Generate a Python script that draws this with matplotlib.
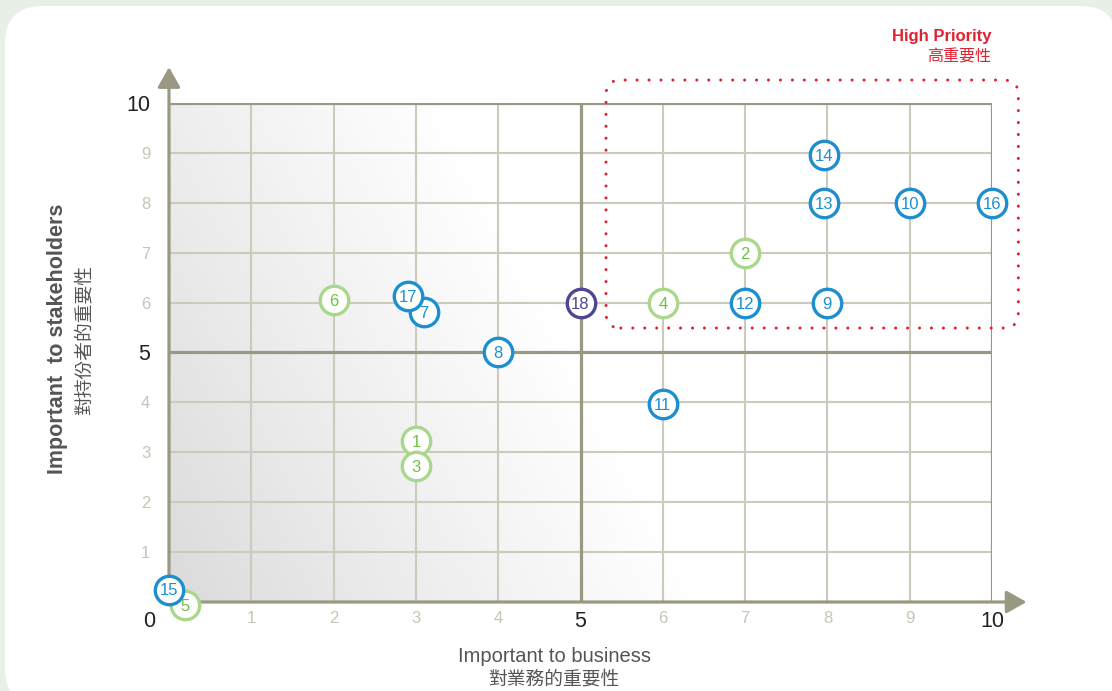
import matplotlib
matplotlib.use("Agg")
import matplotlib.pyplot as plt
import numpy as np
from matplotlib.patches import FancyBboxPatch
from matplotlib.transforms import offset_copy

plt.rcParams['font.family'] = ['Liberation Sans', 'Noto Sans CJK TC', 'DejaVu Sans']

# ---- data ----
ids = ['5', '15', '6', '7', '17', '1', '3', '8', '18', '4', '11', '12', '2', '9', '14', '13', '10', '16']
business = [0.19, 0.0, 2.0, 3.1, 2.9, 3.0, 3.0, 4.0, 5.0, 6.0, 6.0, 7.0, 7.0, 8.0, 7.96, 7.96, 9.0, 10.0]
stakeholders = [-0.06, 0.25, 6.05, 5.82, 6.13, 3.23, 2.73, 5.0, 6.0, 6.0, 3.97, 6.0, 7.0, 6.0, 8.96, 8.0, 8.0, 8.0]
group = ['g', 'b', 'g', 'b', 'b', 'g', 'g', 'b', 'p', 'g', 'b', 'b', 'g', 'b', 'b', 'b', 'b', 'b']

x_ticks = list(range(1, 11))
y_ticks = list(range(1, 11))
major_ticks = [5, 10]

ring_col = {'b': '#1d8fd0', 'g': '#a9d88c', 'p': '#4c4794'}
text_col = {'b': '#1d8fd0', 'g': '#6fc043', 'p': '#4c4794'}

fig = plt.figure(figsize=(11.12, 6.91), dpi=100)
fig.patch.set_facecolor('#e8efe6')

# white rounded panel
bg = fig.add_axes([0, 0, 1, 1], zorder=-1)
bg.set_xlim(0, 1112)
bg.set_ylim(0, 691)
bg.axis('off')
bg.add_patch(FancyBboxPatch((5, -15), 1113, 700, boxstyle='round,pad=0,rounding_size=38',
                            facecolor='white', edgecolor='none'))

ax = fig.add_axes([169 / 1112, 89 / 691, 823 / 1112, 499 / 691])
ax.set_facecolor('none')
ax.set_xlim(0, 10)
ax.set_ylim(0, 10)
for s in ax.spines.values():
    s.set_visible(False)

# shaded background, darker to the bottom-left
u = np.linspace(0, 1, 300)
v = np.linspace(0, 1, 300)
U, V = np.meshgrid(u, v)
t = np.clip(U * 1.55 + V * 0.5, 0, 1) ** 0.9
d = 0.855 + 0.145 * t
img = np.dstack([d, d, d * 0.985 + 0.015])
ax.imshow(img, extent=(0, 10, 0, 10), origin='lower', aspect='auto', zorder=0)

grid_c = '#cbcabb'
frame_c = '#9a9883'
for k in range(1, 10):
    if k == 5:
        continue
    ax.axvline(k, color=grid_c, lw=1.5, zorder=1)
    ax.axhline(k, color=grid_c, lw=1.5, zorder=1)
for k in [5, 10]:
    ax.axvline(k, color=frame_c, lw=2.3, zorder=2)
    ax.axhline(k, color=frame_c, lw=2.3, zorder=2)

# axes with arrows
arrow = '-|>,head_length=0.85,head_width=0.48'
ax.annotate('', xy=(10.42, 0), xytext=(0, 0), annotation_clip=False,
            arrowprops=dict(arrowstyle=arrow, mutation_scale=14.4, lw=2.3,
                            color=frame_c, shrinkA=0, shrinkB=0), zorder=3)
ax.annotate('', xy=(0, 10.72), xytext=(0, 0), annotation_clip=False,
            arrowprops=dict(arrowstyle=arrow, mutation_scale=14.4, lw=2.3,
                            color=frame_c, shrinkA=0, shrinkB=0), zorder=3)

# ticks
ax.set_xticks(x_ticks)
ax.set_yticks(y_ticks)
ax.set_xticklabels([str(k) for k in x_ticks])
ax.set_yticklabels([str(k) for k in y_ticks])
ax.tick_params(axis='x', length=0, pad=6.5)
ax.tick_params(axis='y', length=0, pad=13.5)
for lab, k in zip(ax.get_xticklabels(), x_ticks):
    if k in major_ticks:
        lab.set_color('#222222'); lab.set_fontsize(15.5)
    else:
        lab.set_color('#c5c5b5'); lab.set_fontsize(12)
for lab, k in zip(ax.get_yticklabels(), y_ticks):
    if k in major_ticks:
        lab.set_color('#222222'); lab.set_fontsize(15.5)
    else:
        lab.set_color('#c5c5b5'); lab.set_fontsize(12)
ax.text(-0.24, -0.40, '0', ha='center', va='center', fontsize=15.5, color='#222222', clip_on=False)

# high priority area
hp = FancyBboxPatch((5.31, 5.49), 10.32 - 5.31, 10.46 - 5.49,
                    boxstyle='round,pad=0,rounding_size=0.18', mutation_aspect=1.65,
                    facecolor='none', edgecolor='#e0212f', lw=2.2,
                    linestyle=(0, (0.01, 3.9)), clip_on=False, zorder=4)
hp.set_capstyle('round')
ax.add_patch(hp)
ax.text(9.99, 11.34, 'High Priority', ha='right', va='center', fontsize=12,
        fontweight='bold', color='#e0212f', clip_on=False)
ax.text(9.99, 10.93, '高重要性', ha='right', va='center', fontsize=11.5,
        color='#e0212f', clip_on=False)

# bubbles
num_tr = offset_copy(ax.transData, fig=fig, y=-4.3, units='points')
for i, (lab, x, y, g) in enumerate(zip(ids, business, stakeholders, group)):
    ax.scatter([x], [y], s=420, facecolor='white', edgecolor=ring_col[g], linewidths=2.4,
               clip_on=False, zorder=10 + 2 * i)
    ax.text(x, y, lab, ha='center', va='baseline', fontsize=12, color=text_col[g],
            transform=num_tr, clip_on=False, zorder=11 + 2 * i)

# axis titles
ax.text(4.68, -1.10, 'Important to business', ha='center', va='center', fontsize=14.5,
        color='#555555', clip_on=False)
ax.text(4.68, -1.56, '對業務的重要性', ha='center', va='center', fontsize=13.5,
        color='#555555', clip_on=False)
ax.text(-1.36, 5.27, 'Important  to stakeholders', ha='center', va='center', rotation=90,
        fontsize=15.5, fontweight='bold', color='#555555', clip_on=False)
ax.text(-1.02, 5.25, '對持份者的重要性', ha='center', va='center', rotation=90,
        fontsize=13.5, color='#555555', clip_on=False)

fig.savefig('out.png', dpi=100, facecolor=fig.get_facecolor())
